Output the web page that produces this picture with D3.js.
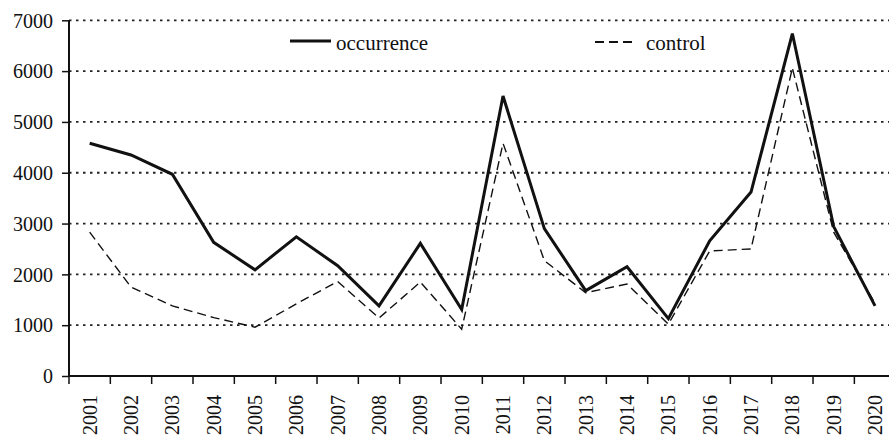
<!DOCTYPE html>
<html><head><meta charset="utf-8">
<script src="https://cdn.jsdelivr.net/npm/d3@7"></script>
<style>body{margin:0;background:#fff}svg{display:block}</style>
</head><body><svg id="c" width="889" height="435" font-family="Liberation Serif"></svg>
<script>
const years = ["2001","2002","2003","2004","2005","2006","2007","2008","2009","2010","2011","2012","2013","2014","2015","2016","2017","2018","2019","2020"];
const occurrence = [4580,4350,3970,2630,2090,2740,2170,1380,2610,1310,5510,2900,1680,2150,1130,2660,3620,6740,2940,1380];
const control = [2830,1750,1380,1150,960,1420,1860,1140,1850,920,4580,2270,1640,1810,1020,2460,2500,6060,2830,1430];
const yTicks = [0,1000,2000,3000,4000,5000,6000,7000];

const FONT = "Liberation Serif";
const svg = d3.select("#c");
const L = 69, T = 20.3, B = 376, R = 895.7;
const x = d3.scaleBand().domain(years).range([L, R]);
const y = d3.scaleLinear().domain([0, 7000]).range([B, T]);

// grid
svg.append("g").selectAll("line").data(yTicks.filter(d => d > 0)).join("line")
  .attr("x1", L).attr("x2", 889).attr("y1", d => y(d)).attr("y2", d => y(d))
  .attr("stroke", "#222").attr("stroke-width", 1.8).attr("stroke-dasharray", "2.5,4.5");

// y axis
const ya = svg.append("g").attr("transform", `translate(${L},0)`)
  .call(d3.axisLeft(y).tickValues(yTicks).tickSize(7).tickPadding(9).tickFormat(d3.format("d")));
ya.attr("font-family", FONT).attr("font-size", 20);
ya.select(".domain").attr("stroke", "#111").attr("stroke-width", 2).attr("d", `M0,${T}V${B}`);
ya.selectAll(".tick line").attr("stroke", "#111").attr("stroke-width", 1.5);
ya.selectAll("text").style("font-size", "20px").style("font-family", FONT).attr("fill", "#111").attr("dy", "0.34em");

// x axis
const xa = svg.append("g").attr("transform", `translate(0,${B})`)
  .call(d3.axisBottom(x).tickSize(0).tickFormat(d => d));
xa.attr("font-family", FONT).attr("font-size", 20);
xa.select(".domain").attr("stroke", "#111").attr("stroke-width", 2).attr("d", `M${L},0H889`);
xa.selectAll(".tick text").style("font-size", "20px").style("font-family", FONT).attr("fill", "#111")
  .attr("transform", "rotate(-90)").attr("text-anchor", "end").attr("x", -19).attr("y", 0).attr("dy", "0.35em");
// tick marks at band boundaries
svg.append("g").selectAll("line").data(years).join("line")
  .attr("x1", d => x(d)).attr("x2", d => x(d)).attr("y1", B).attr("y2", B + 8)
  .attr("stroke", "#111").attr("stroke-width", 1.5);

const cx = d => x(d) + x.bandwidth() / 2;
const line = vals => d3.line().x((d, i) => cx(years[i])).y(d => y(d))(vals);

svg.append("path").attr("d", line(control)).attr("fill", "none").attr("stroke", "#111")
  .attr("stroke-width", 1.4).attr("stroke-dasharray", "9,5");
svg.append("path").attr("d", line(occurrence)).attr("fill", "none").attr("stroke", "#111")
  .attr("stroke-width", 3).attr("stroke-linejoin", "miter");

// legend
const lg = svg.append("g");
lg.append("line").attr("x1", 290).attr("x2", 331).attr("y1", 41).attr("y2", 41).attr("stroke", "#111").attr("stroke-width", 3);
lg.append("text").attr("x", 336).attr("y", 50).style("font-size", "21px").style("font-family", FONT).attr("fill", "#111").text("occurrence");
lg.append("line").attr("x1", 595).attr("x2", 634).attr("y1", 42).attr("y2", 42).attr("stroke", "#111").attr("stroke-width", 1.8).attr("stroke-dasharray", "9,5");
lg.append("text").attr("x", 646).attr("y", 50).style("font-size", "21px").style("font-family", FONT).attr("fill", "#111").text("control");
</script></body></html>
